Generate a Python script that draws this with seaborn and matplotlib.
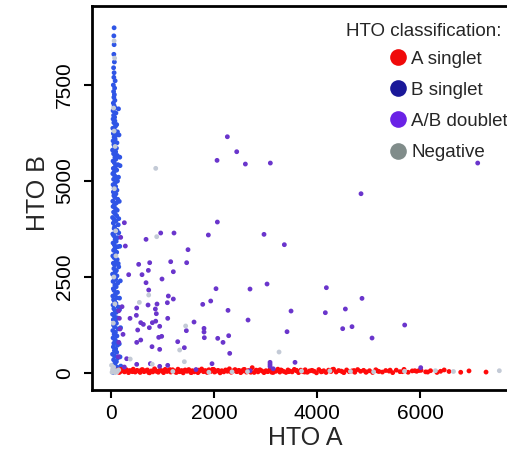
import pandas as pd
import seaborn as sns
import matplotlib.pyplot as plt
from matplotlib.lines import Line2D

# HTO A single cells (high A, near-zero B)
red_x = [
    95, 130, 168, 190, 236, 262, 301, 340, 365, 402,
    431, 470, 505, 538, 566, 610, 642, 671, 706, 748,
    780, 812, 845, 880, 918, 950, 986, 1020, 1052, 1090,
    1121, 1160, 1195, 1228, 1262, 1300, 1336, 1370, 1402, 1440,
    1475, 1510, 1546, 1580, 1618, 1650, 1688, 1722, 1760, 1795,
    1830, 1866, 1900, 1938, 1972, 2010, 2045, 2080, 2118, 2150,
    2190, 2225, 2262, 2298, 2335, 2370, 2408, 2445, 2480, 2518,
    2556, 2590, 2630, 2668, 2702, 2742, 2780, 2818, 2855, 2892,
    2930, 2970, 3008, 3046, 3085, 3122, 3160, 3200, 3240, 3278,
    3318, 3356, 3398, 3436, 3478, 3518, 3560, 3600, 3642, 3684,
    3726, 3770, 3812, 3856, 3900, 3946, 3990, 4036, 4082, 4130,
    4176, 4224, 4272, 4322, 4372, 4420, 4470, 4522, 4575, 4628,
    4680, 4735, 4790, 4846, 4905, 4962, 5020, 5080, 5142, 5205,
    5270, 5335, 5400, 5470, 5540, 5612, 5690, 5770, 5850, 5935,
    6020, 6110, 6205, 6330, 6470, 6564, 6791, 6952, 7283, 5980,
    150, 285, 420, 590, 730, 865, 1005, 1140, 1280, 1420,
    1560, 1700, 1840, 1985, 2130, 2280, 2425, 2570, 2715, 2860,
    3010, 3150, 3300, 3450, 3600, 3760, 3920, 4100, 4300, 4500,
    4720, 4950, 5180, 5420, 5660, 5900, 6150, 6400, 2000, 2500,
]
red_y = [
    40, 75, 20, 95, 55, 30, 85, 10, 65, 45,
    100, 25, 70, 50, 15, 90, 35, 60, 80, 5,
    55, 30, 110, 45, 20, 75, 60, 10, 95, 40,
    70, 25, 85, 50, 15, 100, 35, 65, 5, 80,
    45, 90, 20, 60, 30, 75, 10, 55, 105, 35,
    65, 15, 85, 40, 95, 25, 50, 70, 5, 60,
    30, 80, 45, 110, 20, 55, 90, 35, 70, 10,
    50, 95, 25, 65, 40, 140, 15, 75, 30, 85,
    55, 10, 60, 35, 90, 20, 70, 45, 100, 25,
    65, 40, 15, 80, 50, 30, 95, 60, 10, 75,
    35, 85, 20, 55, 70, 45, 5, 90, 30, 60,
    15, 75, 40, 100, 25, 65, 50, 10, 80, 35,
    55, 20, 90, 45, 70, 30, 60, 15, 85, 40,
    25, 65, 50, 10, 75, 35, 95, 20, 55, 45,
    70, 30, 60, 15, 80, 40, 20, 55, 25, 65,
    20, 60, 35, 80, 15, 70, 45, 90, 25, 55,
    10, 75, 40, 95, 30, 65, 50, 85, 20, 60,
    45, 15, 80, 35, 70, 25, 55, 40, 90, 30,
    65, 20, 50, 75, 35, 60, 25, 45, 85, 55,
]

# HTO B single cells (near-zero A, high B)
blue_x = [
    40, 95, 60, 120, 35, 80, 105, 50, 130, 70,
    30, 110, 65, 90, 45, 125, 55, 100, 75, 40,
    115, 60, 85, 35, 135, 70, 50, 105, 90, 45,
    120, 65, 30, 100, 80, 55, 140, 40, 95, 70,
    50, 110, 35, 85, 125, 60, 45, 100, 75, 130,
    40, 90, 65, 115, 30, 80, 105, 55, 150, 70,
    45, 95, 120, 60, 35, 85, 110, 50, 75, 130,
    65, 40, 100, 80, 125, 55, 35, 90, 115, 60,
    70, 140, 45, 95, 60, 30, 110, 80, 50, 120,
    85, 40, 65, 105, 35, 130, 75, 55, 95, 45,
    115, 60, 90, 40, 80, 125, 50, 100, 70, 35,
    60, 110, 45, 85, 135, 65, 40, 95, 75, 120,
    50, 90, 30, 105, 70, 55, 115, 40, 80, 60,
    95, 45, 125, 65, 35, 85, 110, 55, 75, 40,
    70, 50, 95, 40, 80, 60, 45, 75, 55, 65,
    50, 70, 45, 80, 55, 60, 50, 65, 55, 60,
    55, 60, 170, 190, 175, 160, 185, 165, 180, 170,
    150, 160, 145, 170, 155, 140, 165, 150, 175, 145,
]
blue_y = [
    15, 60, 110, 150, 205, 250, 300, 345, 395, 440,
    490, 540, 585, 630, 680, 725, 775, 820, 870, 915,
    965, 1010, 1060, 1105, 1150, 1200, 1245, 1295, 1340, 1390,
    1435, 1485, 1530, 1580, 1625, 1675, 1720, 1770, 1815, 1865,
    1910, 1960, 2005, 2055, 2100, 2150, 2195, 2245, 2290, 2340,
    2385, 2435, 2480, 2530, 2575, 2625, 2670, 2720, 2765, 2815,
    2860, 2910, 2955, 3005, 3050, 3100, 3145, 3195, 3240, 3290,
    3335, 3385, 3430, 3480, 3525, 3575, 3620, 3670, 3715, 3765,
    3810, 3860, 3905, 3955, 4000, 4050, 4095, 4145, 4190, 4240,
    4285, 4335, 4380, 4430, 4475, 4525, 4570, 4620, 4665, 4715,
    4760, 4810, 4855, 4905, 4950, 5000, 5045, 5095, 5140, 5190,
    5235, 5285, 5330, 5380, 5425, 5475, 5520, 5570, 5615, 5665,
    5710, 5760, 5805, 5855, 5900, 5950, 5995, 6045, 6090, 6140,
    6185, 6235, 6280, 6330, 6375, 6425, 6470, 6520, 6565, 6615,
    6660, 6710, 6770, 6830, 6900, 6960, 7030, 7100, 7180, 7250,
    7330, 7420, 7500, 7610, 7700, 7820, 7950, 8100, 8300, 8550,
    8780, 8990, 35, 180, 420, 760, 1180, 1650, 2400, 3300,
    4020, 4470, 5100, 5620, 6200, 2850, 1950, 3650, 5400, 6880,
]

# A/B doublets
purple_x = [
    2259, 2441, 2059, 2609, 3094, 7121, 4855, 259, 2065, 188,
    278, 965, 1223, 680, 1890, 2971, 3366, 1495, 537, 751,
    1159, 1469, 343, 602, 725, 1210, 990, 680, 732, 2039,
    2699, 3030, 4182, 4874, 1113, 1210, 1094, 719, 893, 499,
    214, 1936, 1781, 2272, 3496, 4162, 4551, 861, 492, 369,
    1101, 880, 577, 628, 803, 868, 744, 945, 162, 175,
    1612, 2661, 1806, 1806, 1463, 518, 233, 3418, 4499, 4680,
    5703, 5069, 926, 984, 577, 499, 1295, 1812, 2072, 2285,
    2175, 796, 945, 1424, 2305, 304, 3573, 3088, 3088, 3088,
    1961, 764, 499, 945, 1101, 259, 150, 150, 142, 6014,
    2700, 3150, 1650,
]
purple_y = [
    6153, 5763, 5538, 5442, 5468, 5468, 4669, 3914, 3932, 3533,
    3307, 3646, 3646, 3481, 3594, 3611, 3342, 3212, 2830, 2873,
    2899, 2873, 2561, 2561, 2673, 2638, 2448, 2352, 2161, 2196,
    2187, 2318, 2222, 1944, 2005, 1927, 1831, 1771, 1797, 1693,
    1727, 1875, 1788, 1632, 1614, 1571, 1667, 1667, 1502, 1424,
    1424, 1545, 1311, 1267, 1311, 1350, 1181, 1216, 1424, 1146,
    1328, 1380, 1163, 1068, 1103, 1120, 1007, 1076, 1155, 1207,
    1250, 911, 929, 955, 859, 798, 816, 920, 903, 972,
    798, 686, 616, 660, 512, 373, 278, 278, 226, 174,
    243, 243, 226, 174, 200, 156, 1620, 800, 425, 140,
    60, 110, 90,
]

# Negatives
gray_x = [
    868, 887, 550, 732, 1449, 1333, 1424, 3263, 800, 373,
    7541, 1200, 2350, 3700, 4650, 5100, 5700, 6300, 6650, 1900,
    2650, 4250, 60, 70, 50, 80, 65, 90, 55, 75,
    45, 95, 60, 20, 60, 100, 30, 80, 120, 50,
    150, 10,
]
gray_y = [
    5330, 3550, 1840, 2031, 1225, 599, 295, 547, 230, 364,
    60, 40, 30, 50, 40, 30, 45, 60, 40, 20,
    35, 55, 8650, 8200, 6900, 5900, 4800, 3700, 2500, 1800,
    1300, 3050, 6300, 20, 40, 60, 90, 10, 30, 150,
    80, 200,
]

classes = ['A singlet', 'B singlet', 'A/B doublet', 'Negative']
point_colors = ['#FF0A0A', '#2F55E6', '#6A35CC', '#C3CAD6']
legend_colors = ['#F00A0A', '#1A1899', '#6A22E6', '#808C8A']

df = pd.concat([
    pd.DataFrame({'HTO A': blue_x, 'HTO B': blue_y, 'cls': 'B singlet'}),
    pd.DataFrame({'HTO A': red_x, 'HTO B': red_y, 'cls': 'A singlet'}),
    pd.DataFrame({'HTO A': purple_x, 'HTO B': purple_y, 'cls': 'A/B doublet'}),
    pd.DataFrame({'HTO A': gray_x, 'HTO B': gray_y, 'cls': 'Negative'}),
], ignore_index=True)

sns.set_style('white')
plt.rcParams['font.family'] = ['Liberation Sans', 'DejaVu Sans']

fig = plt.figure(figsize=(5.07, 4.53), dpi=100)
ax = fig.add_axes([0.1815, 0.139, 0.8185, 0.8477])

sns.scatterplot(data=df, x='HTO A', y='HTO B', hue='cls', hue_order=classes,
                palette=dict(zip(classes, point_colors)), s=12, linewidth=0,
                legend=False, ax=ax)

ax.set_xlim(-369, 7690)
ax.set_ylim(-443, 9557)
ax.set_xticks([0, 2000, 4000, 6000])
ax.set_yticks([0, 2500, 5000, 7500])

for side in ['left', 'bottom', 'top']:
    ax.spines[side].set_linewidth(2.0)
    ax.spines[side].set_color('black')
ax.spines['right'].set_visible(False)

ax.tick_params(axis='both', direction='out', length=6, width=1.5,
               labelsize=15, colors='black', bottom=True, left=True)
ax.tick_params(axis='x', pad=4)
ax.tick_params(axis='y', pad=7)
for lab in ax.get_yticklabels():
    lab.set_rotation(90)
    lab.set_va('center')

ax.set_xlabel('HTO A', fontsize=18)
ax.set_ylabel('HTO B', fontsize=18)
ax.xaxis.label.set_va('center')
ax.yaxis.label.set_va('center')
ax.xaxis.set_label_coords(0.513, -0.125)
ax.yaxis.set_label_coords(-0.130, 0.512)

# legend title drawn separately so the gap to the first row matches
fig.text(502 / 507, 1 - 32 / 453, 'HTO classification:', ha='right', va='center',
         fontsize=13.5)
handles = [Line2D([], [], marker='o', linestyle='', markersize=12,
                  markerfacecolor=c, markeredgewidth=0) for c in legend_colors]
fig.legend(handles, classes, loc='upper right',
           bbox_to_anchor=(1.02, 1 - 41 / 453), bbox_transform=fig.transFigure,
           frameon=False, fontsize=13.5,
           handletextpad=0.2, labelspacing=0.75, borderpad=0, handlelength=1.0)

fig.savefig('out.png', dpi=100)
